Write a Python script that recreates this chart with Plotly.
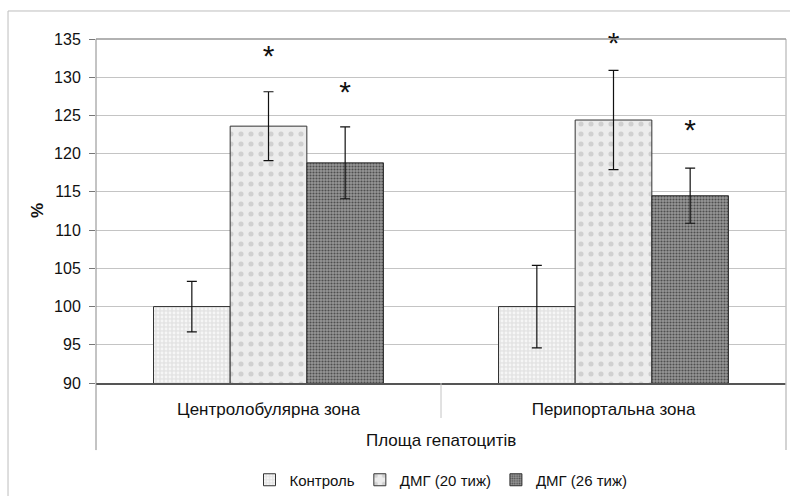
import plotly.graph_objects as go

categories = ["Центролобулярна зона", "Перипортальна зона"]
group_label = "Площа гепатоцитів"
series_names = ["Контроль", "ДМГ (20 тиж)", "ДМГ (26 тиж)"]
control = [100.0, 100.0]
dmg20 = [123.6, 124.4]
dmg26 = [118.8, 114.5]
err_control = [3.3, 5.4]
err_dmg20 = [4.5, 6.5]
err_dmg26 = [4.7, 3.6]
star_dmg20 = [132.4, 134.2]
star_dmg26 = [127.7, 122.8]
y_ticks = [90, 95, 100, 105, 110, 115, 120, 125, 130, 135]

FONT = "Liberation Sans, Arial, sans-serif"
bar_w = 0.2222
idx = list(range(len(categories)))

styles = [
    dict(bgcolor="#e4e4e4", fgcolor="#f6f6f6", shape=".", size=4, solidity=0.4),
    dict(bgcolor="#ececec", fgcolor="#d0d0d0", shape=".", size=10, solidity=0.2),
    dict(bgcolor="#979797", fgcolor="#4f4f4f", shape=".", size=3, solidity=0.4),
]
values = [control, dmg20, dmg26]
errors = [err_control, err_dmg20, err_dmg26]

fig = go.Figure()
for k, (name, vals, errs, st) in enumerate(zip(series_names, values, errors, styles)):
    xs = [i + (k - 1) * bar_w for i in idx]
    fig.add_trace(go.Bar(
        x=xs, y=vals, width=bar_w, name=name,
        marker=dict(color=st["bgcolor"], line=dict(color="#333333", width=1),
                    pattern=dict(shape=st["shape"], fgcolor=st["fgcolor"], bgcolor=st["bgcolor"],
                                 size=st["size"], solidity=st["solidity"], fillmode="replace")),
        error_y=dict(type="data", array=errs, visible=True, color="#111111", thickness=1.2, width=5),
    ))

for k, stars in [(1, star_dmg20), (2, star_dmg26)]:
    xs = [i + (k - 1) * bar_w for i in idx]
    fig.add_trace(go.Scatter(x=xs, y=stars, mode="text", text=["*"] * len(xs),
                             textfont=dict(family=FONT, size=30, color="#111111"),
                             showlegend=False, hoverinfo="skip", cliponaxis=False))

fig.update_layout(
    width=790, height=496,
    margin=dict(l=96, r=4, t=39, b=113, autoexpand=False),
    paper_bgcolor="white", plot_bgcolor="white",
    font=dict(family=FONT, color="#111111"),
    barmode="overlay",
    showlegend=True,
    legend=dict(orientation="h", x=0.5, y=-0.282, xanchor="center", yanchor="middle",
                font=dict(family=FONT, size=15, color="#111111"), itemwidth=30,
                tracegroupgap=0, traceorder="normal", bgcolor="rgba(0,0,0,0)"),
)
fig.update_xaxes(
    range=[-0.5, 1.5], tickmode="array", tickvals=idx, ticktext=categories,
    tickfont=dict(family=FONT, size=17, color="#111111"), ticks="", ticklabelstandoff=10,
    showgrid=False, zeroline=False, showline=True, linecolor="#555555", linewidth=1.5,
    automargin=False,
)
fig.update_yaxes(
    range=[90, 135], tickmode="array", tickvals=y_ticks,
    tickfont=dict(family=FONT, size=16, color="#111111"), ticks="outside", ticklen=6,
    tickcolor="#777777", ticklabelstandoff=5,
    showgrid=True, gridcolor="#c4c4c4", gridwidth=1, zeroline=False,
    showline=False, automargin=False,
)

shapes = [
    # outer frame
    dict(type="rect", xref="paper", yref="paper", x0=-0.1275, x1=1.03, y0=-0.4, y1=1.0814,
         line=dict(color="#bdbdbd", width=1), fillcolor="rgba(0,0,0,0)", layer="below"),
    # left axis line extended
    dict(type="line", xref="paper", yref="paper", x0=0, x1=0, y0=-0.195, y1=1,
         line=dict(color="#888888", width=1)),
    # right border
    dict(type="line", xref="paper", yref="paper", x0=1, x1=1, y0=-0.195, y1=1,
         line=dict(color="#c4c4c4", width=1.5)),
    # top border
    dict(type="line", xref="paper", yref="paper", x0=0, x1=1, y0=1, y1=1,
         line=dict(color="#999999", width=1.5)),
    # category divider
    dict(type="line", xref="paper", yref="paper", x0=0.5, x1=0.5, y0=-0.1017, y1=0,
         line=dict(color="#c4c4c4", width=1)),
]
fig.update_layout(shapes=shapes)

fig.add_annotation(x=0.5, y=-0.166, xref="paper", yref="paper", text=group_label,
                   showarrow=False, font=dict(family=FONT, size=17, color="#111111"),
                   xanchor="center", yanchor="middle")
fig.add_annotation(x=-0.0855, y=0.5, xref="paper", yref="paper", text="<b>%</b>",
                   textangle=-90, showarrow=False,
                   font=dict(family=FONT, size=17, color="#111111"),
                   xanchor="center", yanchor="middle")

fig.write_html("out.html", config={"responsive": False, "displayModeBar": False},
               post_script="document.body.style.margin='0';document.body.style.overflow='hidden';")
